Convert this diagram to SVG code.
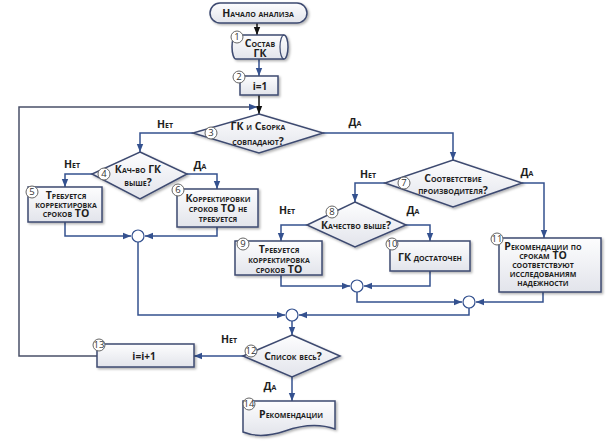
<svg xmlns="http://www.w3.org/2000/svg" width="606" height="442" viewBox="0 0 606 442">
<defs>
<linearGradient id="g" x1="0" y1="0" x2="0" y2="1">
<stop offset="0" stop-color="#fdfdfe"/>
<stop offset="1" stop-color="#e2e4eb"/>
</linearGradient>
<filter id="sh" x="-10%" y="-10%" width="130%" height="140%">
<feDropShadow dx="1.5" dy="1.5" stdDeviation="1" flood-color="#000" flood-opacity="0.3"/>
</filter>
<marker id="ab" viewBox="0 0 10 10" refX="10" refY="5" markerUnits="userSpaceOnUse" markerWidth="8" markerHeight="8" orient="auto">
<path d="M0,1 L10,5 L0,9 z" fill="#34518f"/>
</marker>
<marker id="ak" viewBox="0 0 10 10" refX="10" refY="5" markerUnits="userSpaceOnUse" markerWidth="8" markerHeight="8" orient="auto">
<path d="M0,1 L10,5 L0,9 z" fill="#111"/>
</marker>
</defs>
<style>
.box{fill:url(#g);stroke:#3d4a70;stroke-width:1.5;filter:url(#sh)}
.c{fill:none;stroke:#34518f;stroke-width:1.5;marker-end:url(#ab)}
.k{fill:none;stroke:#111;stroke-width:1.5;marker-end:url(#ak)}
.n{fill:#fff;stroke:#666;stroke-width:1}
.j{fill:#fff;stroke:#34518f;stroke-width:1.2}
text{font-family:"Open Sans","Noto Sans",sans-serif;font-weight:bold;font-variant:small-caps;font-size:10.5px;fill:#1e1e1e;text-anchor:middle}
text.nt{font-weight:normal;font-variant:normal;font-size:9.5px;fill:#333}
text.pl{font-variant:normal;font-size:10px}
</style>

<g id="connectors">
<path class="k" d="M257,23 V35"/>
<path class="c" d="M259,59 V76"/>
<path class="k" d="M259,95 V114"/>
<path class="c" style="stroke:#4a5068" d="M97,356 H19 V107 H257"/>
<path class="c" d="M193,133 H140 V152"/>
<path class="c" d="M323,133 H453 V160"/>
<path class="c" d="M92,174 H65 V187"/>
<path class="c" d="M187,174 H217 V189"/>
<path class="c" d="M65,222 V236 H131"/>
<path class="c" d="M217,227 V236 H145"/>
<path class="c" d="M138,242 V315 H285"/>
<path class="c" d="M385,183 H355 V202"/>
<path class="c" d="M522,183 H544 V238"/>
<path class="c" d="M307,225 H281 V241"/>
<path class="c" d="M406,225 H430 V241"/>
<path class="c" d="M281,275 V286 H350"/>
<path class="c" d="M430,271 V286 H364"/>
<path class="c" d="M357,292 V302 H462"/>
<path class="c" d="M543,292 V302 H476"/>
<path class="c" d="M469,308 V315 H299"/>
<path class="c" d="M292,321 V335"/>
<path class="c" d="M243,356 H194"/>
<path class="c" d="M292,377 V401"/>
<circle class="j" cx="138" cy="236" r="6"/>
<circle class="j" cx="357" cy="286" r="6"/>
<circle class="j" cx="469" cy="302" r="6"/>
<circle class="j" cx="292" cy="315" r="6"/>
<text x="165" y="128">Нет</text>
<text x="355" y="126">Да</text>
<text x="72" y="168">Нет</text>
<text x="200" y="169">Да</text>
<text x="368" y="178">Нет</text>
<text x="527" y="176">Да</text>
<text x="287" y="214">Нет</text>
<text x="413" y="214">Да</text>
<text x="229" y="343">Нет</text>
<text x="270" y="390">Да</text>
</g>

<g id="start">
<rect class="box" x="210" y="3" width="97" height="20" rx="10"/>
<text x="258" y="17">Начало анализа</text>
</g>

<g id="n1">
<path class="box" d="M236,35 H284 A4,12 0 0 1 284,59 H236 A4,12 0 0 1 236,35 Z"/>
<path d="M284,35 A4,12 0 0 0 284,59" fill="none" stroke="#3d4a70" stroke-width="1.2"/>
<text x="260" y="47">Состав</text>
<text x="260" y="57">ГК</text>
<circle class="n" cx="237" cy="37" r="6"/>
<text class="nt" x="237" y="40.3">1</text>
</g>

<g id="n2">
<rect class="box" x="240" y="76" width="38" height="19"/>
<text class="pl" x="260" y="89.5">i=1</text>
<circle class="n" cx="239" cy="77" r="6"/>
<text class="nt" x="239" y="80.3">2</text>
</g>

<g id="n3">
<polygon class="box" points="259,114 323,133 259,153 193,133"/>
<text x="258" y="129.5">ГК и Сборка</text>
<text x="258" y="144.5">совпадают?</text>
<circle class="n" cx="211" cy="133" r="6"/>
<text class="nt" x="211" y="136.3">3</text>
</g>

<g id="n4">
<polygon class="box" points="140,152 187,174 140,199 92,174"/>
<text x="138" y="172.5">Кач-во ГК</text>
<text x="138" y="185.5">выше?</text>
<circle class="n" cx="104" cy="174" r="6"/>
<text class="nt" x="104" y="177.3">4</text>
</g>

<g id="n5">
<rect class="box" x="28" y="187" width="74" height="35"/>
<text x="66" y="198.5">Требуется</text>
<text x="66" y="207.5">корректировка</text>
<text x="66" y="216.5">сроков ТО</text>
<circle class="n" cx="32" cy="192" r="6"/>
<text class="nt" x="32" y="195.3">5</text>
</g>

<g id="n6">
<rect class="box" x="177" y="189" width="81" height="38"/>
<text x="218" y="201.5">Корректировки</text>
<text x="218" y="211.5">сроков ТО не</text>
<text x="218" y="221.5">требуется</text>
<circle class="n" cx="178" cy="190" r="6"/>
<text class="nt" x="178" y="193.3">6</text>
</g>

<g id="n7">
<polygon class="box" points="453,160 522,183 453,207 385,183"/>
<text x="453" y="181.5">Соответствие</text>
<text x="453" y="193.5">производителя?</text>
<circle class="n" cx="404" cy="183" r="6"/>
<text class="nt" x="404" y="186.3">7</text>
</g>

<g id="n8">
<polygon class="box" points="355,202 406,225 355,247 307,225"/>
<text x="356" y="228.5">Качество выше?</text>
<circle class="n" cx="332" cy="212" r="6"/>
<text class="nt" x="332" y="215.3">8</text>
</g>

<g id="n9">
<rect class="box" x="235" y="241" width="87" height="34"/>
<text x="279" y="253">Требуется</text>
<text x="279" y="263">корректировка</text>
<text x="279" y="273">сроков ТО</text>
<circle class="n" cx="243" cy="244" r="6"/>
<text class="nt" x="243" y="247.3">9</text>
</g>

<g id="n10">
<rect class="box" x="390" y="241" width="80" height="30"/>
<text x="430" y="260.5">ГК достаточен</text>
<circle class="n" cx="392" cy="244" r="6"/>
<text class="nt" x="392" y="247.3">10</text>
</g>

<g id="n11">
<rect class="box" x="499" y="238" width="102" height="54"/>
<text x="543" y="249.5">Рекомендации по</text>
<text x="543" y="258.5">срокам ТО</text>
<text x="543" y="267.5">соответствуют</text>
<text x="543" y="276.5">исследованиям</text>
<text x="543" y="285.5">надежности</text>
<circle class="n" cx="497" cy="239" r="6"/>
<text class="nt" x="497" y="242.3">11</text>
</g>

<g id="n12">
<polygon class="box" points="292,335 340,356 292,377 243,356"/>
<text x="293" y="359.5">Список весь?</text>
<circle class="n" cx="251" cy="351" r="6"/>
<text class="nt" x="251" y="354.3">12</text>
</g>

<g id="n13">
<rect class="box" x="97" y="344" width="97" height="23"/>
<text class="pl" x="144" y="359.5">i=i+1</text>
<circle class="n" cx="99" cy="345" r="6"/>
<text class="nt" x="99" y="348.3">13</text>
</g>

<g id="n14">
<path class="box" d="M243,401 H335 V429 C318,423 302,425 285,431 C270,436 255,437 243,432 Z"/>
<text x="291" y="417.5">Рекомендации</text>
<circle class="n" cx="249" cy="404" r="6"/>
<text class="nt" x="249" y="407.3">14</text>
</g>
</svg>
